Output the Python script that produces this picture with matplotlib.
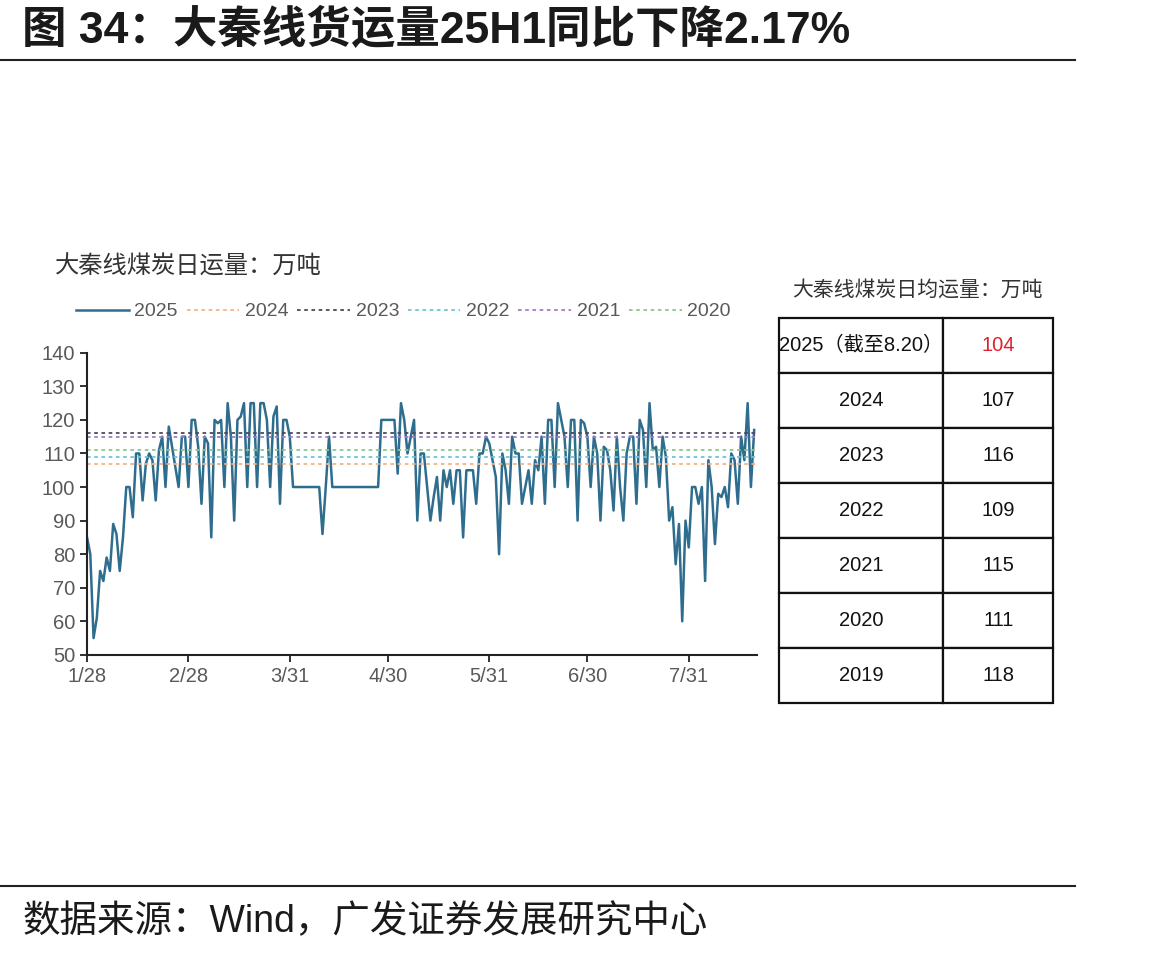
import numpy as np
import pandas as pd
import matplotlib
matplotlib.use('Agg')
import matplotlib.pyplot as plt

plt.rcParams['font.family'] = ['Liberation Sans', 'Noto Sans CJK SC', 'DejaVu Sans']

# ---------- 数据 ----------
start_date = '2025-01-28'
volume_2025 = [
    85, 80, 55, 61, 75, 72, 79, 75, 89, 86,
    75, 85, 100, 100, 91, 110, 110, 96, 107, 110,
    108, 96, 111, 115, 100, 118, 112, 106, 100, 115,
    115, 100, 120, 120, 112, 95, 115, 113, 85, 120,
    119, 120, 100, 125, 115, 90, 120, 121, 125, 100,
    125, 125, 100, 125, 125, 120, 100, 121, 124, 95,
    120, 120, 115, 100, 100, 100, 100, 100, 100, 100,
    100, 100, 86, 100, 115, 100, 100, 100, 100, 100,
    100, 100, 100, 100, 100, 100, 100, 100, 100, 100,
    120, 120, 120, 120, 120, 104, 125, 120, 110, 115,
    120, 90, 110, 110, 100, 90, 97, 103, 90, 105,
    100, 105, 95, 105, 105, 85, 105, 105, 105, 95,
    110, 110, 115, 113, 108, 103, 80, 110, 105, 95,
    115, 110, 110, 95, 100, 105, 95, 108, 105, 115,
    95, 120, 120, 100, 125, 120, 115, 100, 120, 120,
    90, 120, 119, 115, 100, 115, 110, 90, 112, 111,
    105, 93, 115, 100, 90, 110, 115, 115, 95, 120,
    117, 100, 125, 111, 112, 100, 115, 109, 90, 94,
    77, 89, 60, 90, 82, 100, 100, 95, 100, 72,
    108, 100, 83, 98, 97, 100, 94, 110, 108, 95,
    115, 108, 125, 100, 117,
]
avg_years = ['2024', '2023', '2022', '2021', '2020']
avg_values = [107, 116, 109, 115, 111]
avg_colors = ['#F4B183', '#4A4A5A', '#6CC4DC', '#A27BC8', '#8CC68C']

tick_dates = ['2025-01-28', '2025-02-28', '2025-03-31', '2025-04-30',
              '2025-05-31', '2025-06-30', '2025-07-31']
tick_labels = ['1/28', '2/28', '3/31', '4/30', '5/31', '6/30', '7/31']

table_years = ['2025（截至8.20）', '2024', '2023', '2022', '2021', '2020', '2019']
table_values = ['104', '107', '116', '109', '115', '111', '118']

# ---------- 画图 ----------
fig = plt.figure(figsize=(11.68, 9.56), dpi=100)

fig.text(0.019, 0.968, '图 34：大秦线货运量25H1同比下降2.17%', fontsize=32,
         fontweight='bold', ha='left', va='center', color='#1a1a1a')
fig.add_artist(plt.Line2D([0, 0.92], [0.937, 0.937], color='#222222', lw=1.5))
fig.add_artist(plt.Line2D([0, 0.92], [0.073, 0.073], color='#222222', lw=1.5))
fig.text(0.019, 0.035, '数据来源：Wind，广发证券发展研究中心', fontsize=27,
         ha='left', va='center', color='#1a1a1a')

fig.text(0.047, 0.721, '大秦线煤炭日运量：万吨', fontsize=17.5, ha='left', va='center',
         color='#333333')

ax = fig.add_axes([0.0745, 0.315, 0.574, 0.316])
dates = pd.date_range(start_date, periods=len(volume_2025), freq='D')
x = (dates - dates[0]).days
ax.plot(x, volume_2025, color='#2F6D8E', lw=1.8, label='2025')
for yr, val, col in zip(avg_years, avg_values, avg_colors):
    ax.axhline(val, color=col, lw=1.3, ls=(0, (2, 2)), label=yr)

tick_x = (pd.to_datetime(tick_dates) - dates[0]).days
ax.set_xticks(tick_x)
ax.set_xticklabels(tick_labels)
ax.set_xlim(0, len(volume_2025))
ax.set_ylim(50, 140)
ax.set_yticks(np.arange(50, 141, 10))
for s in ['top', 'right']:
    ax.spines[s].set_visible(False)
for s in ['left', 'bottom']:
    ax.spines[s].set_color('#222222')
    ax.spines[s].set_linewidth(1.5)
ax.tick_params(axis='both', direction='out', length=5, width=1.3, color='#222222',
               labelsize=14.5, labelcolor='#595959')
ax.legend(loc='center', bbox_to_anchor=(0.472, 1.136), ncol=6, frameon=False,
          fontsize=14, labelcolor='#595959', handlelength=2.7,
          handletextpad=0.3, columnspacing=0.45)

fig.text(0.785, 0.697, '大秦线煤炭日均运量：万吨', fontsize=15, ha='center',
         va='center', color='#333333')

tab_ax = fig.add_axes([0.667, 0.2646, 0.2346, 0.4028])
tab_ax.axis('off')
rows = [[y, v] for y, v in zip(table_years, table_values)]
tbl = tab_ax.table(cellText=rows, bbox=[0, 0, 1, 1], cellLoc='center',
                   colWidths=[0.6, 0.4])
tbl.auto_set_font_size(False)
for (r, c), cell in tbl.get_celld().items():
    cell.set_edgecolor('#111111')
    cell.set_linewidth(1.6)
    cell.get_text().set_fontsize(14.5)
    cell.get_text().set_color('#111111')
tbl[0, 1].get_text().set_color('#E0202A')

fig.savefig('out.png', dpi=100)
